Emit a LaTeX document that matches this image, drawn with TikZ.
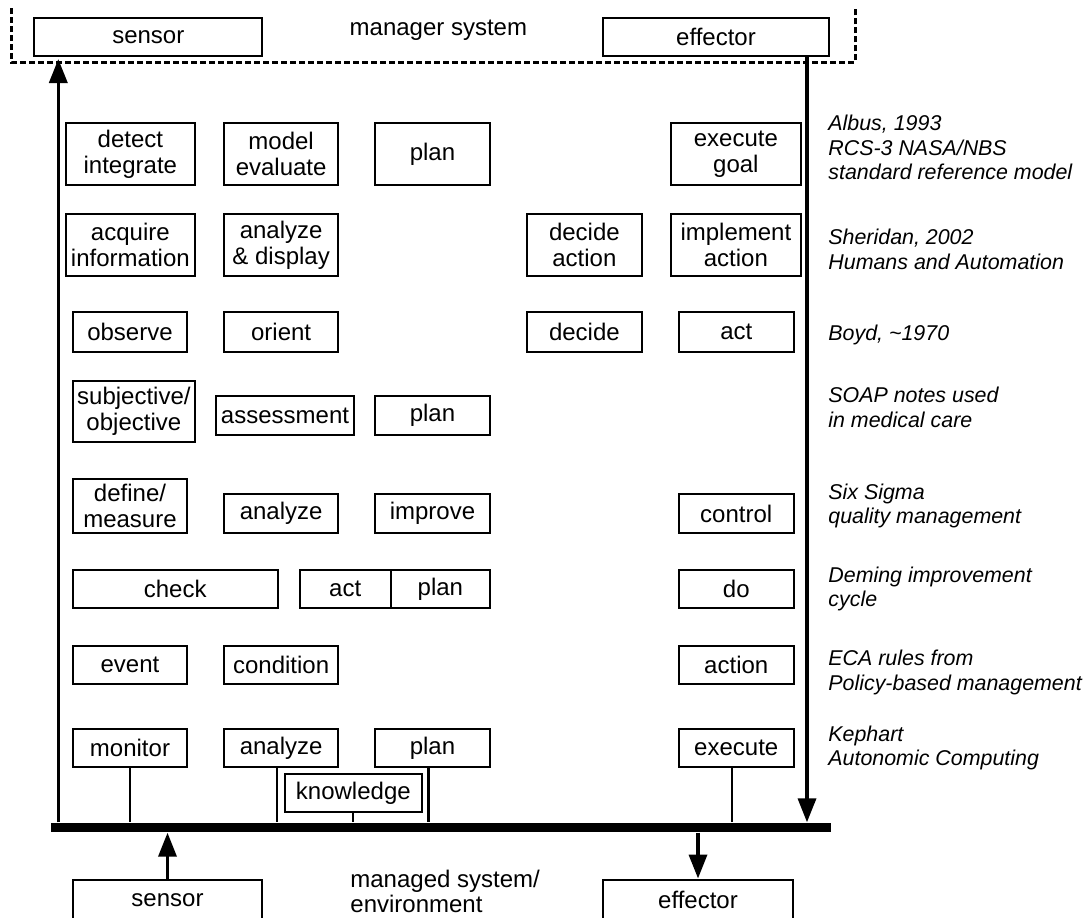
\documentclass[tikz,border=0pt]{standalone}
\usepackage{fontspec}
\setmainfont{Liberation Sans}
\usetikzlibrary{arrows.meta}

\tikzset{
    box/.style={draw, line width=1pt, inner sep=0pt, align=center,
        minimum width=57.3pt, minimum height=19.2pt,
        font=\fontsize{12}{13}\selectfont},
    twoline/.style={minimum height=30.85pt},
    cite/.style={anchor=west, inner sep=0pt, align=left,
        font=\fontsize{10.7}{12.2}\selectfont\itshape},
    feed/.style={line width=1.75pt},
    tap/.style={line width=1.1pt},
    tip/.style={-{Triangle[length=12pt,width=9pt]}},
}

\begin{document}
\begin{tikzpicture}[x=0.5pt,y=-0.5pt]
\useasboundingbox (0,0) rectangle (1085,917);

% manager system on top
\draw[line width=1.75pt, dash pattern=on 3pt off 1.5pt]
    (11.7,8) -- (11.7,62.3) -- (855.5,62.3) -- (855.5,8);
\node[box, minimum width=114pt, minimum height=18.7pt] (topsensor) at (148.3,37) {sensor};
\node[box, minimum width=113.3pt, minimum height=18.7pt] (topeffector) at (716,37) {effector};
\node[font=\fontsize{12}{13}\selectfont] (manager) at (438.4,30) {manager system};

% Albus
\node[box, twoline, minimum width=64.65pt] (detect) at (130.35,154.2) {detect\\integrate};
\node[box, twoline, minimum width=57.15pt] (model) at (281.15,154.2) {model\\evaluate};
\node[box, twoline, minimum width=57.5pt] (rcsplan) at (432.5,154.2) {plan};
\node[box, twoline, minimum width=65.25pt] (execgoal) at (735.85,154.2) {execute\\goal};
\node[cite] (albus) at (828,147.4) {Albus, 1993\\RCS-3 NASA/NBS\\standard reference model};

% Sheridan
\node[box, twoline, minimum width=64.65pt] (acquire) at (130.35,245.15) {acquire\\information};
\node[box, twoline, minimum width=57.15pt] (display) at (281.15,245.15) {analyze\\\& display};
\node[box, twoline, minimum width=57.4pt] (decideact) at (584.4,245.15) {decide\\action};
\node[box, twoline, minimum width=65.25pt] (implement) at (735.85,245.15) {implement\\action};
\node[cite] (sheridan) at (828,249.2) {Sheridan, 2002\\Humans and Automation};

% OODA
\node[box, minimum height=19.7pt] (observe) at (130,332) {observe};
\node[box, minimum height=19.7pt] (orient) at (281.15,332) {orient};
\node[box, minimum height=19.7pt] (decide) at (584.4,332) {decide};
\node[box, minimum height=19.7pt] (oodaact) at (736.25,332) {act};
\node[cite] (boyd) at (828,335) {Boyd, \textasciitilde1970};

% SOAP
\node[box, minimum width=61.15pt, minimum height=30.5pt] (subjective) at (133.85,411.2) {subjective/\\objective};
\node[box, minimum width=69pt, minimum height=19.65pt] (assessment) at (285,415.35) {assessment};
\node[box, minimum width=57.5pt, minimum height=19.65pt] (soapplan) at (432.5,415.35) {plan};
\node[cite] (soap) at (828,407.5) {SOAP notes used\\in medical care};

% Six Sigma
\node[box, minimum height=26.85pt] (define) at (130,505.85) {define/\\measure};
\node[box] (sigmaanalyze) at (281.15,513.5) {analyze};
\node[box] (improve) at (432.5,513.5) {improve};
\node[box] (control) at (736.25,513.5) {control};
\node[cite] (sixsigma) at (828,505.8) {Six Sigma\\quality management};

% Deming
\node[box, minimum width=102.5pt] (check) at (175.2,589.15) {check};
\node[box, minimum width=45.5pt] (pdcaact) at (345.2,589.15) {act};
\node[box, minimum width=49.65pt] (pdcaplan) at (440.35,589.15) {plan};
\node[box] (do) at (736.25,589.15) {do};
\node[cite] (deming) at (828,589.2) {Deming improvement\\cycle};

% ECA
\node[box] (event) at (130,664.85) {event};
\node[box] (condition) at (281.15,664.85) {condition};
\node[box] (action) at (736.25,664.85) {action};
\node[cite] (eca) at (828,672.5) {ECA rules from\\Policy-based management};

% MAPE-K
\node[box, minimum height=18.85pt] (monitor) at (130,747.85) {monitor};
\node[box, minimum height=18.85pt] (analyze) at (281.15,747.85) {analyze};
\node[box, minimum height=18.85pt] (plan) at (432.5,747.85) {plan};
\node[box, minimum height=18.85pt] (execute) at (736.25,747.85) {execute};
\node[box, minimum width=68.35pt, minimum height=19.15pt] (knowledge) at (353.35,793.15) {knowledge};
\node[cite] (kephart) at (828,747.7) {Kephart\\Autonomic Computing};

% bus and managed system
\node[fill=black, inner sep=0pt, minimum width=390.15pt, minimum height=4.8pt] (bus) at (440.85,827.5) {};
\node[box, minimum width=94.8pt, minimum height=20.5pt] (botsensor) at (167.5,900) {sensor};
\node[box, minimum width=95pt, minimum height=20.5pt] (boteffector) at (698,900) {effector};
\node[anchor=west, inner sep=0pt, align=left, font=\fontsize{12}{12.5}\selectfont] (managed) at (350,891.5) {managed system/\\environment};

% feedback loop
\coordinate (fbup) at (58.3,59);
\coordinate (fbdown) at (807,55.7);
\draw[feed, tip] (bus.north -| fbup) -- (fbup);
\draw[feed, tip] (topeffector.south -| fbdown) -- (fbdown |- bus.north);
\draw[feed, tip] (botsensor.north) -- (botsensor.north |- bus.south);
\draw[feed, tip] (bus.south -| boteffector.north) -- (boteffector.north);

% taps onto the bus
\draw[tap] (monitor.south) -- (monitor.south |- bus.north);
\draw[tap] ([xshift=-2pt]analyze.south) -- ([xshift=-2pt]analyze.south |- bus.north);
\draw[tap] (knowledge.south) -- (knowledge.south |- bus.north);
\draw[tap] ([xshift=-2pt]plan.south) -- ([xshift=-2pt]plan.south |- bus.north);
\draw[tap] ([xshift=-2pt]execute.south) -- ([xshift=-2pt]execute.south |- bus.north);

\end{tikzpicture}
\end{document}
